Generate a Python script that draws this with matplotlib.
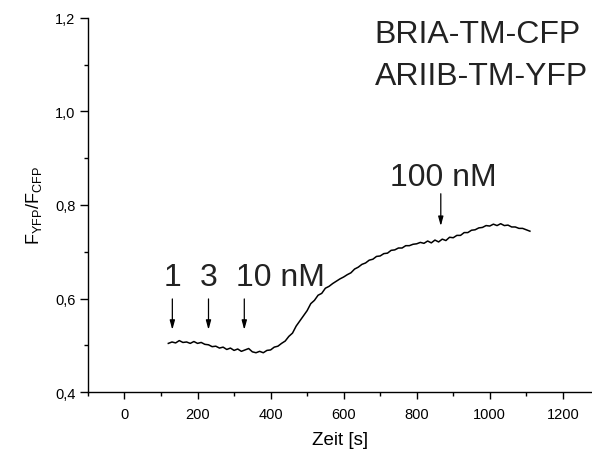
import matplotlib
matplotlib.use('Agg')
import matplotlib.pyplot as plt
from matplotlib.ticker import MultipleLocator, FuncFormatter

plt.rcParams['font.family'] = ['Liberation Sans', 'DejaVu Sans']

# time [s] and ratio F_YFP/F_CFP, every 10 s
zeit = list(range(120, 1111, 10))
ratio = [0.504, 0.507, 0.505, 0.510, 0.506, 0.507, 0.504, 0.508, 0.504, 0.506,
         0.502, 0.501, 0.497, 0.498, 0.494, 0.496, 0.491, 0.494, 0.489, 0.492,
         0.487, 0.490, 0.493, 0.486, 0.484, 0.487, 0.484, 0.489, 0.490, 0.496,
         0.498, 0.504, 0.509, 0.519, 0.526, 0.541, 0.552, 0.563, 0.574, 0.589,
         0.596, 0.607, 0.611, 0.622, 0.626, 0.632, 0.637, 0.642, 0.646, 0.651,
         0.655, 0.663, 0.667, 0.673, 0.676, 0.682, 0.684, 0.690, 0.691, 0.696,
         0.697, 0.703, 0.704, 0.708, 0.708, 0.713, 0.713, 0.716, 0.717, 0.720,
         0.718, 0.723, 0.719, 0.725, 0.721, 0.727, 0.724, 0.731, 0.730, 0.735,
         0.735, 0.741, 0.741, 0.746, 0.747, 0.751, 0.752, 0.756, 0.755, 0.759,
         0.756, 0.760, 0.756, 0.757, 0.753, 0.753, 0.750, 0.750, 0.747, 0.744]

# additions: label, arrow time, label x, label y, arrow top, arrow tip
dose_labels = ['1', '3', '10 nM', '100 nM']
dose_times = [131, 230, 328, 866]
label_x = [131, 230, 306, 874]
label_align = ['center', 'center', 'left', 'center']
label_y = [0.629, 0.629, 0.629, 0.843]
arrow_top = [0.605, 0.605, 0.605, 0.830]
arrow_tip = [0.527, 0.527, 0.527, 0.749]

constructs = ['BRIA-TM-CFP', 'ARIIB-TM-YFP']

fig = plt.figure(figsize=(5.92, 4.52), dpi=100)
ax = fig.add_axes([0.1486, 0.1305, 0.8514, 0.8275])

ax.plot(zeit, ratio, color='black', lw=1.1)

for lab, t, lx, ha, ly, a0, a1 in zip(dose_labels, dose_times, label_x, label_align,
                                       label_y, arrow_top, arrow_tip):
    ax.text(lx, ly, lab, fontsize=23, ha=ha, va='baseline', color='#222222')
    ax.annotate('', xy=(t, a1), xytext=(t, a0),
                arrowprops=dict(arrowstyle='-|>,head_width=0.15,head_length=0.55',
                                color='black', lw=0.9))

for i, name in enumerate(constructs):
    ax.text(0.569, 0.936 - i * 0.112, name, transform=ax.transAxes,
            fontsize=23, ha='left', va='baseline', color='#222222')

ax.set_xlim(-100, 1280)
ax.set_ylim(0.4, 1.2)
ax.xaxis.set_major_locator(MultipleLocator(200))
ax.xaxis.set_minor_locator(MultipleLocator(100))
ax.yaxis.set_major_locator(MultipleLocator(0.2))
ax.yaxis.set_minor_locator(MultipleLocator(0.1))
ax.yaxis.set_major_formatter(FuncFormatter(lambda v, p: f'{v:.1f}'.replace('.', ',')))

ax.spines['top'].set_visible(False)
ax.spines['right'].set_visible(False)
for s in ['left', 'bottom']:
    ax.spines[s].set_linewidth(1.0)
ax.tick_params(which='major', direction='out', length=5, width=1.0, labelsize=10.5)
ax.tick_params(axis='x', which='major', pad=6)
ax.tick_params(axis='y', which='major', length=6, pad=3)
ax.tick_params(which='minor', direction='out', length=3, width=1.0)

ax.set_xlabel('Zeit [s]', fontsize=13.5, labelpad=7)
ax.set_ylabel(r'$\mathregular{F_{YFP}/F_{CFP}}$', fontsize=13, labelpad=8)

fig.savefig('out.png', dpi=100)
